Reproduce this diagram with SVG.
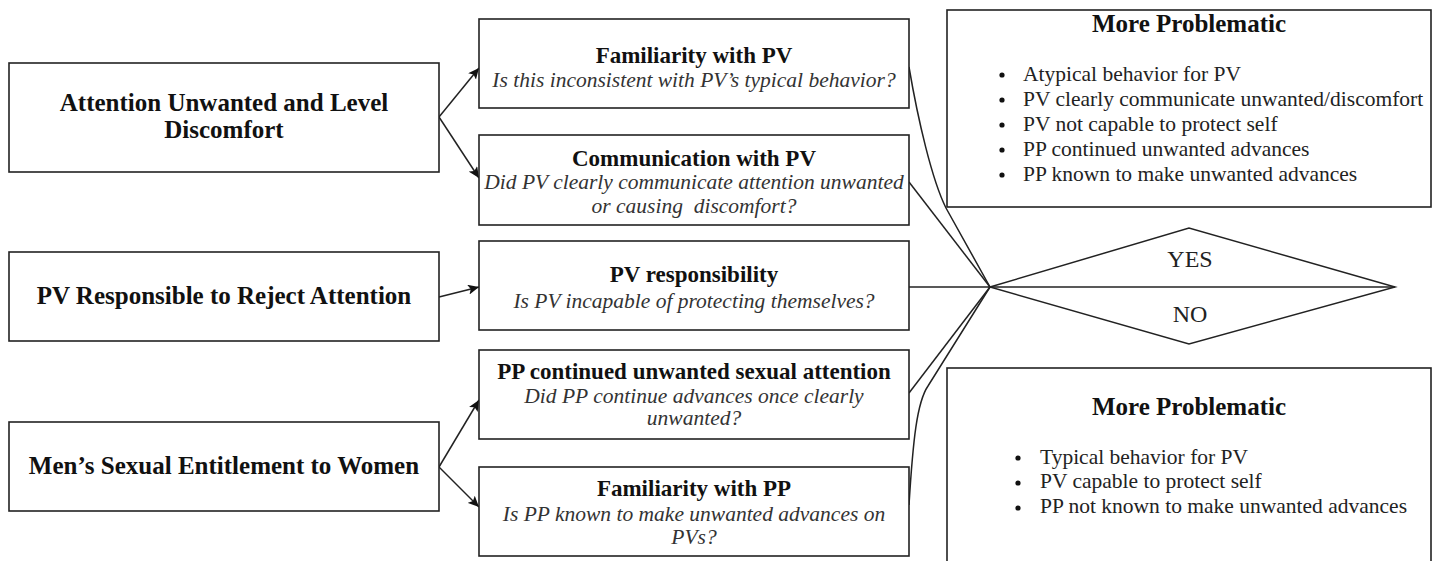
<svg xmlns="http://www.w3.org/2000/svg" width="1438" height="561" viewBox="0 0 1438 561">
<style>
.box{fill:#fff;stroke:#222;stroke-width:1.6}
.ln{fill:none;stroke:#222;stroke-width:1.5}
.t{font-family:"Liberation Serif","Times New Roman",serif;fill:#111}
.lb{font-size:25px;font-weight:bold;text-anchor:middle}
.mh{font-size:23px;font-weight:bold;text-anchor:middle}
.it{font-size:21.5px;font-style:italic;text-anchor:middle;fill:#333}
.li{font-size:21.5px;fill:#222}
.rh{font-size:25px;font-weight:bold;text-anchor:middle}
.yn{font-size:24px;text-anchor:middle;fill:#222}
.dot{fill:#111}
</style>
<defs>
<marker id="arr" markerUnits="userSpaceOnUse" markerWidth="12" markerHeight="10" refX="11" refY="5" orient="auto">
<path d="M0,0 L11,5 L0,10 L2.5,5 z" fill="#111"/>
</marker>
</defs>

<g id="connectors">
<line class="ln" x1="439" y1="117" x2="479" y2="68" marker-end="url(#arr)"/>
<line class="ln" x1="439" y1="117" x2="479" y2="178" marker-end="url(#arr)"/>
<line class="ln" x1="439" y1="297" x2="479" y2="287" marker-end="url(#arr)"/>
<line class="ln" x1="439" y1="467" x2="479" y2="400" marker-end="url(#arr)"/>
<line class="ln" x1="439" y1="467" x2="479" y2="507" marker-end="url(#arr)"/>
<path class="ln" d="M909,67 C918,120 932,180 946,208 L990,287"/>
<line class="ln" x1="909" y1="182" x2="990" y2="287"/>
<line class="ln" x1="909" y1="287" x2="1395" y2="287"/>
<line class="ln" x1="909" y1="393" x2="990" y2="287"/>
<path class="ln" d="M909,505 C913,440 917,402 928,386 L990,287"/>
</g>

<g id="attention-unwanted">
<rect class="box" x="9" y="63" width="430" height="109"/>
<text class="t lb" x="224" y="111">Attention Unwanted and Level</text>
<text class="t lb" x="224" y="138">Discomfort</text>
</g>
<g id="pv-responsible">
<rect class="box" x="9" y="252" width="430" height="89"/>
<text class="t lb" x="224" y="304">PV Responsible to Reject Attention</text>
</g>
<g id="mens-entitlement">
<rect class="box" x="9" y="422" width="430" height="89"/>
<text class="t lb" x="224" y="474">Men’s Sexual Entitlement to Women</text>
</g>

<g id="familiarity-pv">
<rect class="box" x="479" y="19" width="430" height="89"/>
<text class="t mh" x="694" y="63">Familiarity with PV</text>
<text class="t it" x="694" y="87">Is this inconsistent with PV’s typical behavior?</text>
</g>
<g id="communication-pv">
<rect class="box" x="479" y="135" width="430" height="90"/>
<text class="t mh" x="694" y="166">Communication with PV</text>
<text class="t it" x="694" y="189">Did PV clearly communicate attention unwanted</text>
<text class="t it" x="694" y="213" xml:space="preserve">or causing  discomfort?</text>
</g>
<g id="pv-responsibility">
<rect class="box" x="479" y="241" width="430" height="89"/>
<text class="t mh" x="694" y="282">PV responsibility</text>
<text class="t it" x="694" y="308">Is PV incapable of protecting themselves?</text>
</g>
<g id="pp-continued">
<rect class="box" x="479" y="350" width="430" height="89"/>
<text class="t mh" x="694" y="379">PP continued unwanted sexual attention</text>
<text class="t it" x="694" y="403">Did PP continue advances once clearly</text>
<text class="t it" x="694" y="425">unwanted?</text>
</g>
<g id="familiarity-pp">
<rect class="box" x="479" y="467" width="430" height="89"/>
<text class="t mh" x="694" y="496">Familiarity with PP</text>
<text class="t it" x="694" y="521">Is PP known to make unwanted advances on</text>
<text class="t it" x="694" y="544">PVs?</text>
</g>

<g id="decision">
<polygon fill="none" stroke="#222" stroke-width="1.5" points="990,287 1189,228 1395,287 1189,344"/>
<text class="t yn" x="1190" y="267">YES</text>
<text class="t yn" x="1190" y="322">NO</text>
</g>

<g id="more-problematic-yes">
<rect class="box" x="947" y="10" width="484" height="197"/>
<text class="t rh" x="1189" y="32">More Problematic</text>
<circle class="dot" cx="1002" cy="75" r="2.6"/>
<circle class="dot" cx="1002" cy="100" r="2.6"/>
<circle class="dot" cx="1002" cy="125" r="2.6"/>
<circle class="dot" cx="1002" cy="150" r="2.6"/>
<circle class="dot" cx="1002" cy="175" r="2.6"/>
<text class="t li" x="1023" y="81">Atypical behavior for PV</text>
<text class="t li" x="1023" y="106">PV clearly communicate unwanted/discomfort</text>
<text class="t li" x="1023" y="131">PV not capable to protect self</text>
<text class="t li" x="1023" y="156">PP continued unwanted advances</text>
<text class="t li" x="1023" y="181">PP known to make unwanted advances</text>
</g>

<g id="more-problematic-no">
<rect class="box" x="947" y="368" width="484" height="210"/>
<text class="t rh" x="1189" y="415">More Problematic</text>
<circle class="dot" cx="1018" cy="458" r="2.6"/>
<circle class="dot" cx="1018" cy="483" r="2.6"/>
<circle class="dot" cx="1018" cy="508" r="2.6"/>
<text class="t li" x="1040" y="464">Typical behavior for PV</text>
<text class="t li" x="1040" y="488">PV capable to protect self</text>
<text class="t li" x="1040" y="513">PP not known to make unwanted advances</text>
</g>
</svg>
